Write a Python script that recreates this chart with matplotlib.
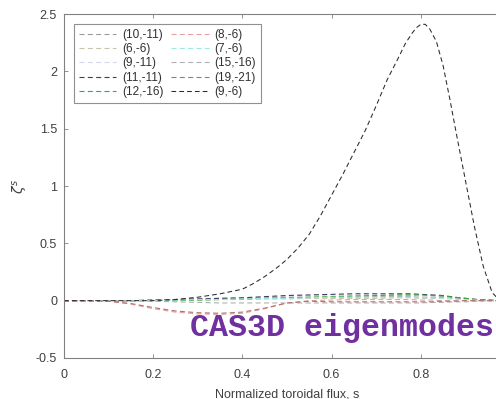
import numpy as np
import matplotlib
matplotlib.use('Agg')
import matplotlib.pyplot as plt

plt.rcParams['font.family'] = ['Liberation Sans', 'DejaVu Sans']

# radial grid (normalized toroidal flux)
s = [0.0, 0.05, 0.1, 0.15, 0.2, 0.25, 0.3, 0.35, 0.4, 0.45, 0.5, 0.55, 0.6,
     0.65, 0.7, 0.75, 0.775, 0.8, 0.825, 0.85, 0.875, 0.9, 0.925, 0.95, 0.975, 1.0]
# finer grid for the dominant mode
s_fine = [0.0, 0.1, 0.2, 0.25, 0.3, 0.35, 0.4, 0.425, 0.45, 0.475, 0.5, 0.525,
          0.55, 0.575, 0.6, 0.625, 0.65, 0.675, 0.7, 0.725, 0.75, 0.765, 0.78,
          0.79, 0.8, 0.81, 0.82, 0.835, 0.85, 0.865, 0.88, 0.9, 0.92, 0.94,
          0.96, 0.975, 1.0]

labels = ['(10,-11)', '(6,-6)', '(9,-11)', '(11,-11)', '(12,-16)',
          '(8,-6)', '(7,-6)', '(15,-16)', '(19,-21)', '(9,-6)']
colors = ['#9a9a9a', '#c8c4a8', '#d8d4ec', '#3c3c64', '#30b030',
          '#e8a0a0', '#a0e8e0', '#b0b0b0', '#b07070', '#000000']

m_10_11 = [0, 0, 0, 0, 0.005, 0.01, 0.015, 0.02, 0.02, 0.025, 0.025, 0.03, 0.03,
           0.03, 0.035, 0.035, 0.035, 0.03, 0.03, 0.025, 0.02, 0.015, 0.01, 0.005, 0.0, 0]
m_6_6 = [0, 0, 0, 0, 0.0, 0.005, 0.005, 0.01, 0.01, 0.015, 0.015, 0.02, 0.02,
         0.02, 0.02, 0.025, 0.025, 0.02, 0.02, 0.02, 0.015, 0.01, 0.005, 0.0, 0.0, 0]
m_9_11 = [0, 0, 0, 0, 0.005, 0.01, 0.015, 0.02, 0.025, 0.03, 0.035, 0.04, 0.04,
          0.045, 0.045, 0.045, 0.045, 0.04, 0.04, 0.035, 0.03, 0.02, 0.01, 0.005, 0.0, 0]
m_11_11 = [0, 0, 0, 0, 0.005, 0.01, 0.015, 0.02, 0.025, 0.035, 0.045, 0.05, 0.055,
           0.06, 0.06, 0.06, 0.06, 0.055, 0.05, 0.045, 0.03, 0.02, 0.01, 0.005, 0.0, 0]
m_12_16 = [0, 0, 0, 0, 0.0, 0.0, 0.005, 0.01, 0.015, 0.02, 0.025, 0.03, 0.035,
           0.04, 0.045, 0.05, 0.05, 0.05, 0.045, 0.04, 0.03, 0.02, 0.01, 0.005, 0.0, 0]
m_8_6 = [0, 0, -0.005, -0.03, -0.07, -0.1, -0.115, -0.12, -0.11, -0.07, -0.02, 0.0,
         0.005, 0.01, 0.01, 0.01, 0.01, 0.005, 0.005, 0.0, 0.0, 0.0, 0.0, 0.0, 0.0, 0]
m_7_6 = [0, 0, 0, 0, 0.0, 0.005, 0.01, 0.01, 0.015, 0.02, 0.02, 0.025, 0.03,
         0.03, 0.03, 0.03, 0.03, 0.025, 0.025, 0.02, 0.015, 0.01, 0.005, 0.0, 0.0, 0]
m_15_16 = [0, 0, 0, 0, -0.005, -0.01, -0.015, -0.02, -0.02, -0.02, -0.02, -0.02, -0.02,
           -0.02, -0.02, -0.02, -0.02, -0.02, -0.015, -0.015, -0.01, -0.01, -0.005, 0.0, 0.0, 0]
m_19_21 = [0, 0, -0.005, -0.025, -0.06, -0.09, -0.105, -0.11, -0.1, -0.065, -0.02, -0.005,
           -0.01, -0.01, -0.01, -0.01, -0.01, -0.01, -0.01, -0.005, -0.005, 0.0, 0.0, 0.0, 0.0, 0]
m_9_6 = [0, 0, 0.0, 0.01, 0.03, 0.06, 0.1, 0.15, 0.21, 0.28, 0.36, 0.46,
         0.58, 0.74, 0.92, 1.1, 1.29, 1.48, 1.7, 1.93, 2.12, 2.24, 2.33,
         2.38, 2.41, 2.41, 2.37, 2.26, 2.05, 1.76, 1.45, 1.05, 0.65, 0.3,
         0.07, 0.01, 0]

modes = [m_10_11, m_6_6, m_9_11, m_11_11, m_12_16,
         m_8_6, m_7_6, m_15_16, m_19_21, m_9_6]

fig = plt.figure(figsize=(4.96, 3.99), dpi=100)
# right edge of the axes runs past the figure (cropped like the original)
ax = fig.add_axes([64/496., 41/399., 446/496., 344/399.])

for y, lab, c in zip(modes, labels, colors):
    xs = s_fine if y is m_9_6 else s
    lw = 0.75 if y is m_9_6 else 0.8
    col = '#2a2a2a' if y is m_9_6 else c
    ax.plot(xs, y, linestyle='--', dashes=(4.5, 3), linewidth=lw, color=col, label=lab)

ax.set_xlim([0, 1])
ax.set_ylim([-0.5, 2.5])
ax.set_xticks(np.arange(0, 1.01, 0.2))
ax.set_xticklabels(['0', '0.2', '0.4', '0.6', '0.8', ''])
ax.set_yticks(np.arange(-0.5, 2.51, 0.5))
ax.set_yticklabels(['-0.5', '0', '0.5', '1', '1.5', '2', '2.5'])
ax.tick_params(direction='in', top=True, right=True, length=3, width=0.6,
               colors='#808080', labelcolor='#404040', labelsize=9, pad=5)
ax.tick_params(axis='x', pad=8)
for sp in ax.spines.values():
    sp.set_color('#808080')
    sp.set_linewidth(0.8)

ax.set_xlabel('Normalized toroidal flux, s', fontsize=9, color='#404040', labelpad=5)
ax.set_ylabel(r'$\zeta^s$', fontsize=10, color='#404040', labelpad=4)

leg = ax.legend(ncol=2, loc='upper left', bbox_to_anchor=(0.022, 0.971),
                borderaxespad=0, fontsize=8.5, handlelength=3.2, handletextpad=0.5,
                columnspacing=0.6, labelspacing=0.2, borderpad=0.4,
                fancybox=False, framealpha=1, edgecolor='#909090')
leg.get_frame().set_linewidth(0.8)
for t in leg.get_texts():
    t.set_color('#303030')

fig.text(190/496., 1 - 328/399., 'CAS3D eigenmodes', family='Liberation Mono',
         fontweight='bold', fontsize=22.8, color='#7030a0', ha='left', va='center')

plt.savefig('out.png', dpi=100)
